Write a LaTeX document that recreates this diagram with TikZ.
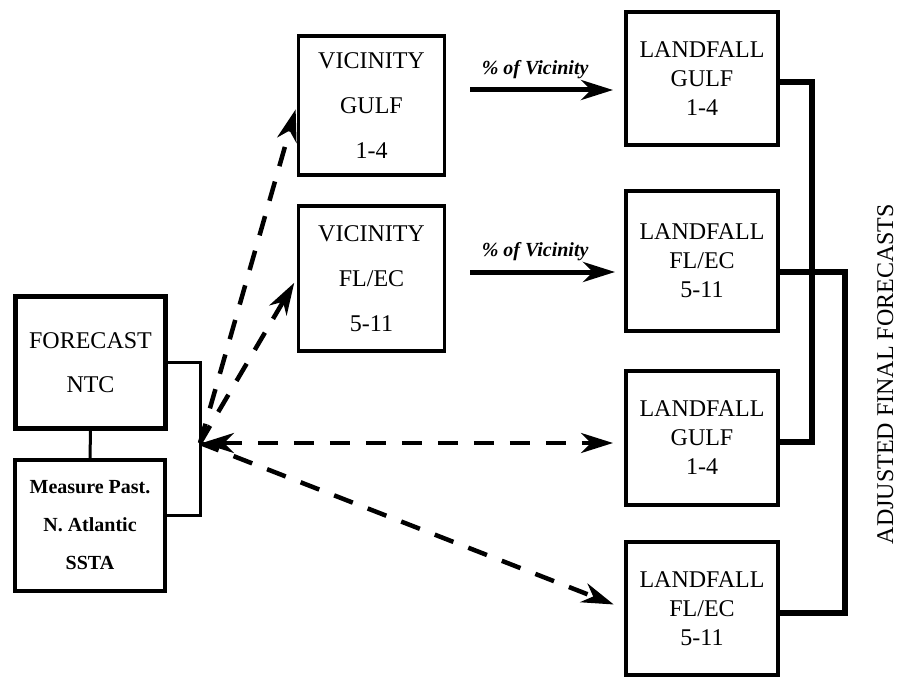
\documentclass[tikz,border=0pt]{standalone}
\usepackage{fontspec}
\setmainfont{Liberation Serif}
\usetikzlibrary{arrows.meta}
\begin{document}
\begin{tikzpicture}
      [
      x=1pt, y=-1pt,
      >={Stealth[length=32pt,width=20pt,inset=10pt]},
      box/.style={rectangle,draw,line width=4pt,inner sep=0pt,align=center,font=\fontsize{24}{29}\selectfont},
      vicinity/.style={box,line width=3.5pt,minimum width=146pt,font=\fontsize{24}{45}\selectfont},
      landfall/.style={box,minimum width=152pt},
      link/.style={line width=3pt},
      bus/.style={line width=6pt},
      flow/.style={line width=5pt,->},
      guess/.style={line width=4.5pt,dash pattern=on 20pt off 16pt}
      ]
      \useasboundingbox (0,0) rectangle (899,679);
      % inputs
      \node (forecast) at (90.5,362.5) [box,line width=5pt,minimum width=150pt,minimum height=132pt,font=\fontsize{24}{44}\selectfont] {FORECAST\\NTC};
      \node (measure) at (90,525.5) [box,minimum width=150pt,minimum height=131pt,font=\bfseries\fontsize{20}{38}\selectfont] {Measure Past.\\N. Atlantic\\SSTA};
      \coordinate (hub) at (200,443);
      % vicinity
      \node (vgulf) at (371.5,105.5) [vicinity,minimum height=139pt] {VICINITY\\GULF\\1-4};
      \node (vflec) at (371.5,278.5) [vicinity,minimum height=145pt] {VICINITY\\FL/EC\\5-11};
      % landfall
      \node (lgulf1) at (702,78.5) [landfall,minimum height=133pt] {LANDFALL\\GULF\\1-4};
      \node (lflec1) at (702,261) [landfall,minimum height=140pt] {LANDFALL\\FL/EC\\5-11};
      \node (lgulf2) at (702,438) [landfall,minimum height=134pt] {LANDFALL\\GULF\\1-4};
      \node (lflec2) at (702,608.5) [landfall,minimum height=133pt] {LANDFALL\\FL/EC\\5-11};
      \node (final) at (893,374) [rotate=90,anchor=base,inner sep=0pt,font=\fontsize{24}{28}\selectfont] {ADJUSTED FINAL FORECASTS};
      \draw [link] (forecast) to (measure);
      \draw [link] (forecast.east) -| (hub) |- ([yshift=10.5pt]measure.east);
      \draw [flow, shorten <=24pt, shorten >=11pt] ([yshift=15.5pt]vgulf.east) -- node[above=5pt,font=\bfseries\itshape\fontsize{20}{24}\selectfont] {\% of Vicinity} ([yshift=15.5pt]vgulf.east -| lgulf1.west);
      \draw [flow, shorten <=24pt, shorten >=9pt] ([yshift=6.5pt]vflec.east) -- node[above=5pt,font=\bfseries\itshape\fontsize{20}{24}\selectfont] {\% of Vicinity} ([yshift=6.5pt]vflec.east -| lflec1.west);
      \draw [guess, ->, shorten >=4pt] (hub) to (vgulf.west);
      \draw [guess, ->, shorten >=5pt] (hub) to (vflec.west);
      \draw [guess, <->, shorten >=11pt, shorten <=2pt] (hub) to (hub -| lgulf2.west);
      \draw [guess, ->, shorten >=11pt] (hub) to (lflec2.west);
      \draw [bus] ([yshift=-3.5pt]lgulf1.east) -- +(32,0) |- ([yshift=-4pt]lgulf2.east);
      \draw [bus] ([yshift=-11pt]lflec1.east) -- +(65,0) |- ([yshift=-4.5pt]lflec2.east);
\end{tikzpicture}
\end{document}
